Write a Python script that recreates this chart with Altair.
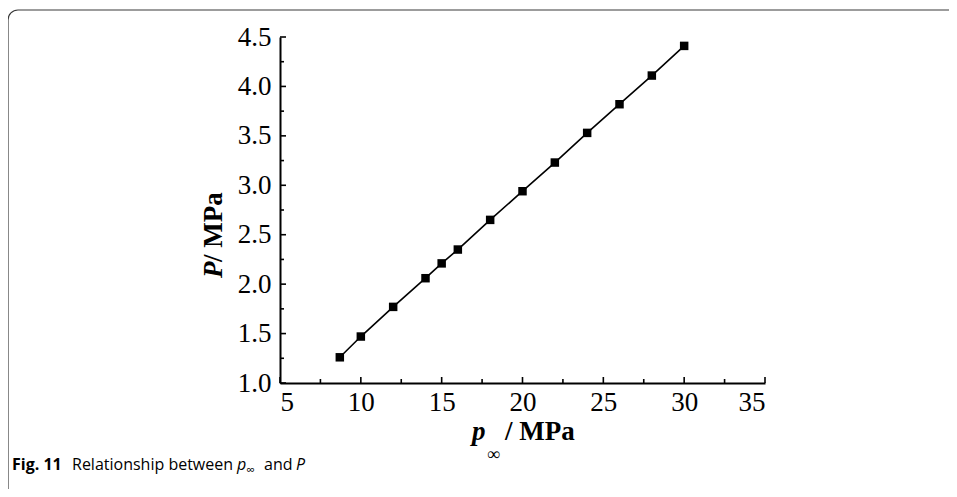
import altair as alt
import pandas as pd

# ---- data ----
p_inf = [8.7, 10, 12, 14, 15, 16, 18, 20, 22, 24, 26, 28, 30]
P_val = [1.26, 1.47, 1.77, 2.06, 2.21, 2.35, 2.65, 2.94, 3.23, 3.53, 3.82, 4.11, 4.41]
x_major = [5, 10, 15, 20, 25, 30, 35]
x_minor = [7.5, 12.5, 17.5, 22.5, 27.5, 32.5]
y_major = [1.0, 1.5, 2.0, 2.5, 3.0, 3.5, 4.0, 4.5]
y_minor = [1.25, 1.75, 2.25, 2.75, 3.25, 3.75, 4.25]

W, H = 485, 346
PAD_L, PAD_T = 272, 29
SERIF = "Liberation Serif"
SANS = "Open Sans"

xs = alt.Scale(domain=[5, 35], nice=False, zero=False)
ys = alt.Scale(domain=[1, 4.5], nice=False, zero=False)

df = pd.DataFrame({"p": p_inf, "P": P_val})
one = pd.DataFrame({"a": [0]})

x_axis = alt.Axis(values=x_major, format="d", title=None, ticks=False, grid=False,
                  domainColor="black", domainWidth=2, labelFont=SERIF,
                  labelFontSize=27, labelColor="black", labelPadding=6)
y_axis = alt.Axis(values=y_major, format=".1f", title=None, ticks=False, grid=False,
                  domainColor="black", domainWidth=2, labelFont=SERIF,
                  labelFontSize=27, labelColor="black", labelPadding=9)

line = alt.Chart(df).mark_line(color="black", strokeWidth=1.6).encode(
    x=alt.X("p:Q", scale=xs, axis=x_axis),
    y=alt.Y("P:Q", scale=ys, axis=y_axis),
)
pts = alt.Chart(df).mark_square(size=72, color="black", opacity=1).encode(
    x=alt.X("p:Q", scale=xs, axis=x_axis),
    y=alt.Y("P:Q", scale=ys, axis=y_axis),
)

def xticks(vals, ln):
    return alt.Chart(pd.DataFrame({"v": vals})).mark_rule(color="black", strokeWidth=1.6).encode(
        x=alt.X("v:Q", scale=xs, axis=x_axis), y=alt.value(H), y2=alt.value(H - ln))

def yticks(vals, ln):
    return alt.Chart(pd.DataFrame({"v": vals})).mark_rule(color="black", strokeWidth=1.6).encode(
        y=alt.Y("v:Q", scale=ys, axis=y_axis), x=alt.value(0), x2=alt.value(ln))

frame = alt.Chart(one).mark_rect(filled=False, stroke="#3a3a3a", strokeWidth=1.2,
                                 cornerRadius=10).encode(
    x=alt.value(8 - 8 - PAD_L), x2=alt.value(720), y=alt.value(10 - 8 - PAD_T), y2=alt.value(500))

def txt(s, x, y, size, font, weight="normal", style="normal", angle=0, align="left",
        baseline="alphabetic"):
    return alt.Chart(one).mark_text(text=s, font=font, fontSize=size, fontWeight=weight,
                                    fontStyle=style, angle=angle, align=align,
                                    baseline=baseline, color="black").encode(
        x=alt.value(x), y=alt.value(y))

# axis titles (page coords minus origin)
ox, oy = 8 + PAD_L, 8 + PAD_T
xt_p = txt("p", 472 - ox, 440 - oy, 27, SERIF, "bold", "italic")
xt_inf = txt("\u221e", 487 - ox, 460 - oy, 18, SERIF)
xt_rest = txt("/ MPa", 505 - ox, 440 - oy, 27, SERIF, "bold")
yt_P = txt("P", 222 - ox, 278 - oy, 27, SERIF, "bold", "italic", angle=270)
yt_rest = txt("/ MPa", 222 - ox, 262 - oy, 27, SERIF, "bold", angle=270)

cap_b = txt("Fig. 11", 12 - ox, 470 - oy, 16, SANS, "bold")
cap_1 = txt("Relationship between", 72 - ox, 470 - oy, 16, SANS)
cap_p = txt("p", 237 - ox, 470 - oy, 16, SANS, style="italic")
cap_i = txt("\u221e", 246 - ox, 474 - oy, 12, SANS)
cap_2 = txt("and", 264 - ox, 470 - oy, 16, SANS)
cap_P = txt("P", 296 - ox, 470 - oy, 16, SANS, style="italic")

chart = alt.layer(
    line, pts, frame,
    xticks(x_major, 6), xticks(x_minor, 4), yticks(y_major, 6), yticks(y_minor, 4),
    xt_p, xt_inf, xt_rest, yt_P, yt_rest,
    cap_b, cap_1, cap_p, cap_i, cap_2, cap_P,
).properties(
    width=W, height=H, background="white",
    autosize=alt.AutoSizeParams(type="none"),
    padding={"left": PAD_L, "top": PAD_T, "right": 941 - PAD_L - W, "bottom": 481 - PAD_T - H},
).configure_view(stroke=None)

chart.save("out.html", embed_options={"renderer": "svg", "actions": False})
